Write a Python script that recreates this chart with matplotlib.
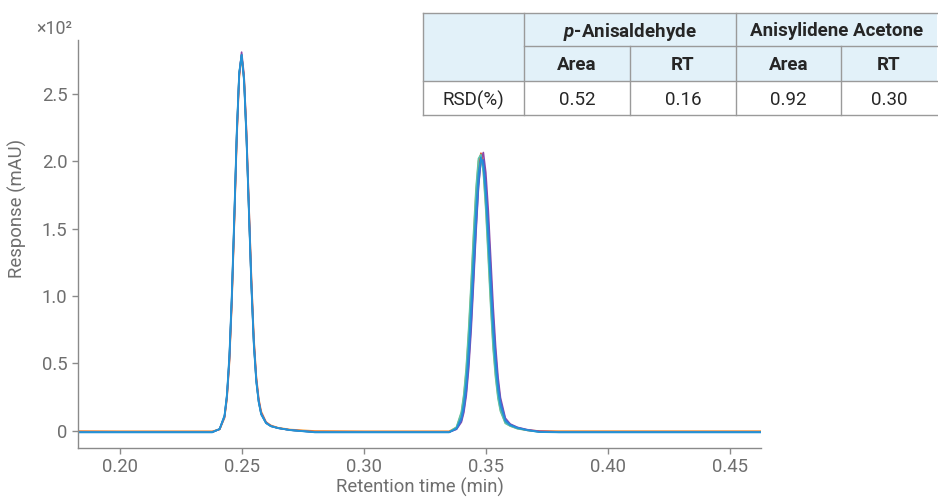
import matplotlib
matplotlib.use("Agg")
import matplotlib.pyplot as plt
from matplotlib.patches import Rectangle
from matplotlib.ticker import FuncFormatter, FixedLocator

plt.rcParams["font.family"] = ["Roboto", "DejaVu Sans"]
plt.rcParams["mathtext.fontset"] = "custom"
plt.rcParams["mathtext.it"] = "Roboto:italic:bold"
plt.rcParams["mathtext.rm"] = "Roboto:bold"

# ---------------- data ----------------
time_min = [0.183, 0.200, 0.220, 0.238,
            0.241, 0.243, 0.244, 0.245, 0.246, 0.247, 0.248, 0.249, 0.250, 0.251,
            0.252, 0.253, 0.254, 0.255, 0.256, 0.257, 0.258, 0.260, 0.262, 0.265, 0.270,
            0.280, 0.300, 0.320, 0.335,
            0.338, 0.340, 0.341, 0.342, 0.343, 0.344, 0.345, 0.346, 0.347, 0.348, 0.349,
            0.350, 0.351, 0.352, 0.353, 0.354, 0.355, 0.356, 0.358, 0.360, 0.363, 0.367,
            0.372, 0.380, 0.400, 0.420, 0.440, 0.463]

run_orange = [-0.3, -0.4, -0.4, -0.4,
              1.0, 9.5, 23.5, 50, 94, 152, 214, 261, 278, 263, 222, 168, 115, 70, 41, 24, 14.5, 6.5, 4, 2.2, 0.9,
              -0.2, -0.4, -0.4, -0.4,
              2.5, 13.1, 25.4, 44.6, 72.8, 106.4, 143.4, 177, 200.2, 205, 193.3, 167, 132.3, 96, 64, 41.6, 25.4, 15.4,
              5.8, 3.6, 1.6, 0.5,
              -0.2, -0.3, -0.3, -0.3, -0.3, -0.3]
run_red = [-0.6, -0.7, -0.7, -0.7,
           1.2, 10.5, 25.5, 53.5, 98, 156, 218, 264, 279, 261, 218, 163, 109, 65.5, 38, 22, 13, 6, 3.5, 2, 0.5,
           -0.6, -0.7, -0.7, -0.7,
           1.7, 9.4, 19, 35, 60, 92, 129, 165, 193, 206, 200, 179, 147, 110, 76, 50, 31, 19,
           7, 4, 2, 0.3,
           -0.5, -0.7, -0.7, -0.7, -0.7, -0.7]
run_purple = [-0.9, -0.9, -0.9, -0.9,
              1.1, 10, 24.5, 52, 96, 154, 216, 263, 281, 264, 222, 167, 113, 68, 39.5, 23, 13.5, 6.2, 3.6, 2, 0.5,
              -0.9, -0.9, -0.9, -0.9,
              1.1, 6.4, 13.5, 26.2, 46.3, 74.7, 110, 147.4, 180.4, 201.4, 206.5, 191.6, 164, 128.6, 92.6, 63, 40, 24.6,
              9.4, 5, 2.5, 0.8,
              -0.4, -0.9, -0.9, -0.9, -0.9, -0.9]
run_teal = [-0.9, -0.9, -0.9, -0.9,
            1.2, 10.6, 25.7, 54, 99, 157, 219, 265, 279, 261, 218, 163, 109, 65, 37.5, 21.5, 12.7, 5.8, 3.4, 2, 0.5,
            -0.9, -0.9, -0.9, -0.9,
            2.7, 14, 27, 47, 76, 110, 147, 180, 202, 205, 191.6, 164, 128.6, 92.6, 61, 39.5, 24, 14.5,
            5.5, 3.5, 1.5, 0.3,
            -0.9, -0.9, -0.9, -0.9, -0.9, -0.9]
run_blue = [-1.1, -1.1, -1.1, -1.1,
            1.3, 11, 26.5, 55, 100, 158, 220, 265, 279, 260, 217, 162, 108, 64.5, 37, 21.5, 12.5, 5.8, 3.4, 1.9, 0.5,
            -1.1, -1.1, -1.1, -1.1,
            1.3, 7.5, 15.4, 29, 50.8, 80, 115, 151, 182, 200, 201, 183, 154, 119, 84, 57, 36, 22,
            8.4, 4.6, 2.3, 0.6,
            -0.8, -1.1, -1.1, -1.1, -1.1, -1.1]
run_cyan = [-1.2, -1.2, -1.2, -1.2,
            1.4, 11.5, 27.5, 57, 103, 161, 222, 266, 279, 259, 215, 160, 106, 63, 36, 21, 12, 5.6, 3.3, 1.9, 0.4,
            -1.2, -1.2, -1.2, -1.2,
            1.9, 10, 20, 36.5, 61.5, 93, 129, 164, 191, 203, 196, 174, 142, 106, 73, 48, 30, 18.5,
            7, 4, 2, 0.4,
            -1.0, -1.2, -1.2, -1.2, -1.2, -1.2]

runs = [run_orange, run_red, run_purple, run_teal, run_blue, run_cyan]
run_colors = ["#F5A03A", "#E5522C", "#8E48A8", "#5CC3A7", "#3E6DD5", "#2394D5"]

x_ticks = [0.20, 0.25, 0.30, 0.35, 0.40, 0.45]
y_ticks = [0, 50, 100, 150, 200, 250]

table_groups = [r"$p$-Anisaldehyde", "Anisylidene Acetone"]
table_subheads = ["Area", "RT", "Area", "RT"]
table_row_label = "RSD(%)"
table_values = ["0.52", "0.16", "0.92", "0.30"]

# ---------------- figure ----------------
W, H = 938, 500
fig = plt.figure(figsize=(W / 100, H / 100), dpi=100)
ax = fig.add_axes([78 / W, (H - 448) / H, (761 - 78) / W, (448 - 40) / H])

for r, c in zip(runs, run_colors):
    ax.plot(time_min, r, color=c, lw=1.2, solid_joinstyle="round")

ax.set_xlim(0.183, 0.4627)
ax.set_ylim(-12.8, 290)

gray = "#6E6E6E"
spine_gray = "#8A8A8A"
for s in ["top", "right"]:
    ax.spines[s].set_visible(False)
for s in ["left", "bottom"]:
    ax.spines[s].set_color(spine_gray)
    ax.spines[s].set_linewidth(1.0)

ax.xaxis.set_major_locator(FixedLocator(x_ticks))
ax.yaxis.set_major_locator(FixedLocator(y_ticks))
ax.xaxis.set_major_formatter(FuncFormatter(lambda v, p: f"{v:.2f}"))
ax.yaxis.set_major_formatter(FuncFormatter(lambda v, p: "0" if abs(v) < 1e-9 else f"{v / 100:.1f}"))
ax.tick_params(axis="both", direction="out", length=4.5, width=1.0, color=spine_gray,
               labelcolor=gray, labelsize=13.3, pad=3)

fig.text(419.5 / W, 1 - 487 / H, "Retention time (min)", ha="center", va="center",
         color=gray, fontsize=13.3)
fig.text(17 / W, 1 - 208 / H, "Response (mAU)", rotation=90, ha="center", va="center",
         color=gray, fontsize=13.3)
fig.text(72 / W, 1 - 29 / H, "×10²", ha="right", va="center", color=gray, fontsize=12.8)

# ---------------- table ----------------
tax = fig.add_axes([0, 0, 1, 1], zorder=5)
tax.set_xlim(0, W)
tax.set_ylim(H, 0)
tax.axis("off")

col_x = [423, 524, 630, 736, 841, 937]
row_y = [12.7, 45.7, 80.7, 115]
head_bg = "#E2F1F9"
line_c = "#9A9A9A"
txt_c = "#262626"

tax.add_patch(Rectangle((col_x[0], row_y[0]), col_x[-1] - col_x[0], row_y[2] - row_y[0],
                        facecolor=head_bg, edgecolor="none"))
tax.add_patch(Rectangle((col_x[0], row_y[2]), col_x[-1] - col_x[0], row_y[3] - row_y[2],
                        facecolor="white", edgecolor="none"))
lk = dict(color=line_c, lw=1.0)
tax.plot([col_x[0], col_x[-1]], [row_y[0], row_y[0]], **lk)
tax.plot([col_x[0], col_x[-1]], [row_y[3], row_y[3]], **lk)
tax.plot([col_x[0], col_x[-1]], [row_y[2], row_y[2]], **lk)
tax.plot([col_x[1], col_x[-1]], [row_y[1], row_y[1]], **lk)
tax.plot([col_x[0], col_x[0]], [row_y[0], row_y[3]], **lk)
tax.plot([col_x[1], col_x[1]], [row_y[0], row_y[3]], **lk)
tax.plot([col_x[3], col_x[3]], [row_y[0], row_y[3]], **lk)
tax.plot([col_x[2], col_x[2]], [row_y[1], row_y[3]], **lk)
tax.plot([col_x[4], col_x[4]], [row_y[1], row_y[3]], **lk)

fs = 13.5
for i, g in enumerate(table_groups):
    xc = (col_x[1 + 2 * i] + col_x[3 + 2 * i]) / 2
    tax.text(xc, (row_y[0] + row_y[1]) / 2, g, ha="center", va="center_baseline",
             fontsize=fs, fontweight="bold", color=txt_c)
for i, s in enumerate(table_subheads):
    xc = (col_x[1 + i] + col_x[2 + i]) / 2
    tax.text(xc, (row_y[1] + row_y[2]) / 2, s, ha="center", va="center_baseline",
             fontsize=fs, fontweight="bold", color=txt_c)
tax.text((col_x[0] + col_x[1]) / 2, (row_y[2] + row_y[3]) / 2, table_row_label,
         ha="center", va="center_baseline", fontsize=fs, color=txt_c)
for i, v in enumerate(table_values):
    xc = (col_x[1 + i] + col_x[2 + i]) / 2
    tax.text(xc, (row_y[2] + row_y[3]) / 2, v, ha="center", va="center_baseline",
             fontsize=fs, color=txt_c)

fig.savefig("out.png", dpi=100)
